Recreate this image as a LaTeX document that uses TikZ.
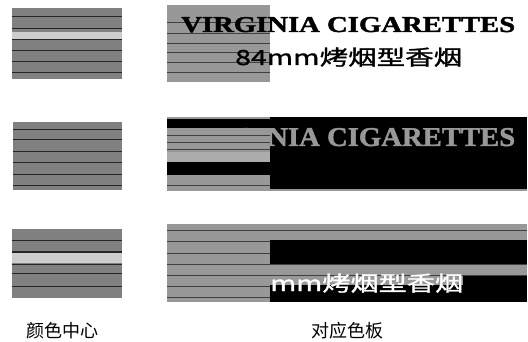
\documentclass[tikz,border=0pt]{standalone}
\usepackage{fontspec}
\usepackage{graphicx}
\newfontfamily\cjk{Noto Sans CJK SC}
\newfontfamily\cjkb[FakeBold=1.2]{Noto Sans CJK SC}
\newfontfamily\tms[FakeBold=1.5]{Liberation Serif}
\definecolor{hL}{RGB}{128,128,128}
\definecolor{hR}{RGB}{152,152,152}
\definecolor{hW}{RGB}{205,205,205}
\definecolor{hX}{RGB}{172,172,172}
\tikzset{
  ln/.style={draw=black!85,line width=1pt},
  lnt/.style={draw=black!75,line width=0.7pt},
  txt/.style={inner sep=0pt,anchor=base west},
  lab/.style={inner sep=0pt,font=\cjk\fontsize{18}{18}\selectfont}
}
\begin{document}
\begin{tikzpicture}[x=1pt,y=-1pt]
\useasboundingbox (0,0) rectangle (528,342);
% ---------- left column ----------
% row 1
\fill[hL] (12,8) rectangle (122,79);
\fill[hW] (12,32) rectangle (122,39);
\foreach \y in {17,29,40,51,62,73} \draw[ln] (12,\y) -- (122,\y);
% row 2
\fill[hL] (13,122) rectangle (122,190);
\foreach \y in {130,140,152,163,175,186} \draw[ln] (13,\y) -- (122,\y);
% row 3
\fill[hL] (12,229) rectangle (122,298);
\fill[hW] (12,253) rectangle (122,263);
\foreach \y in {241,252,264,273,286} \draw[ln] (12,\y) -- (122,\y);
% ---------- right column ----------
% row 1
\fill[hR] (167,5) rectangle (270,82);
\foreach \y in {22,33,43,52,62,72} \draw[lnt] (167,\y) -- (270,\y);
\node[txt] (t1) at (181,32) {\resizebox{334pt}{15pt}{\tms\bfseries VIRGINIA CIGARETTES}};
\node[txt] (t2) at (235,65) {\resizebox{227pt}{17.5pt}{\cjkb 84mm烤烟型香烟}};
% row 2
\fill[black] (167,117) rectangle (527,191);
\fill[hR] (167,117) rectangle (270,119.5);
\fill[hR] (167,128) rectangle (270,152);
\fill[hX] (167,152) rectangle (270,162);
\fill[hR] (167,175) rectangle (270,190);
\fill[hR] (167,189.5) rectangle (527,191);
\node[txt,text=hR] (t3) at (181,146) {\resizebox{334pt}{18pt}{\tms\bfseries VIRGINIA CIGARETTES}};
\foreach \y in {135,142,149,185} \draw[lnt] (167,\y) -- (270,\y);
% row 3
\fill[hR] (167,224) rectangle (270,302);
\fill[hR] (270,224) rectangle (527,240);
\fill[black] (270,240) rectangle (527,302);
\fill[hR] (270,264) rectangle (527,275);
\fill[hR] (270,275) rectangle (463,285);
\foreach \y in {230,264,275} \draw[lnt] (167,\y) -- (527,\y);
\foreach \y in {241,253,286,297} \draw[lnt] (167,\y) -- (270,\y);
\node[txt,text=white] (t4) at (270,291) {\resizebox{193pt}{17.5pt}{\cjkb mm烤烟型香烟}};
% ---------- labels ----------
\node[lab] (lab1) at (63,331) {颜色中心};
\node[lab] (lab2) at (347,331) {对应色板};
\end{tikzpicture}
\end{document}
